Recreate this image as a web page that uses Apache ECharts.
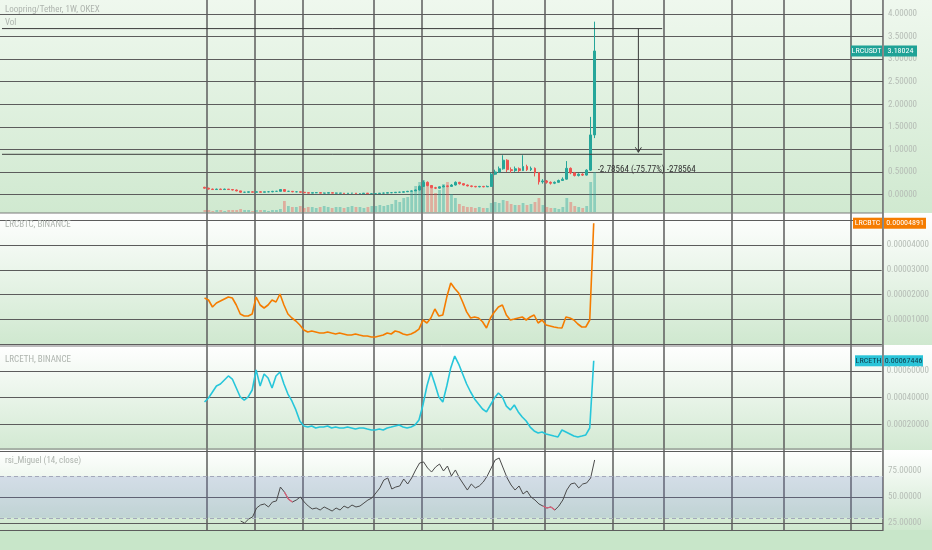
<!DOCTYPE html>
<html><head><meta charset="utf-8">
<script src="https://cdn.jsdelivr.net/npm/echarts@6/dist/echarts.min.js"></script>
<style>html,body{margin:0;padding:0;background:#fff}#c{width:932px;height:550px}</style>
</head><body><div id="c"></div>
<script>
// ---------- DATA (weekly) ----------
// LRC/USDT candles: [open, close, low, high]
const usdCandles = [
[0.16,0.14,0.13,0.17],[0.14,0.12,0.11,0.15],[0.12,0.11,0.10,0.13],[0.11,0.12,0.10,0.13],[0.12,0.11,0.10,0.13],
[0.11,0.12,0.10,0.13],[0.12,0.11,0.10,0.12],[0.11,0.10,0.09,0.12],[0.10,0.08,0.07,0.11],[0.08,0.05,0.04,0.08],
[0.05,0.05,0.04,0.06],[0.05,0.06,0.04,0.06],[0.06,0.05,0.05,0.07],[0.05,0.06,0.05,0.07],[0.06,0.05,0.05,0.07],
[0.05,0.06,0.05,0.06],[0.06,0.06,0.05,0.07],[0.06,0.07,0.05,0.08],[0.07,0.07,0.06,0.08],[0.07,0.11,0.07,0.12],
[0.11,0.07,0.06,0.12],[0.07,0.07,0.06,0.08],[0.07,0.06,0.05,0.07],[0.06,0.06,0.05,0.07],[0.06,0.05,0.04,0.06],
[0.05,0.04,0.03,0.05],[0.04,0.03,0.03,0.04],[0.03,0.04,0.03,0.04],[0.04,0.04,0.03,0.05],[0.04,0.03,0.03,0.04],
[0.03,0.03,0.03,0.04],[0.03,0.04,0.03,0.04],[0.04,0.03,0.03,0.04],[0.03,0.03,0.02,0.04],[0.03,0.03,0.02,0.03],
[0.03,0.02,0.02,0.03],[0.02,0.03,0.02,0.03],[0.03,0.03,0.02,0.03],[0.03,0.02,0.02,0.03],[0.02,0.02,0.02,0.03],
[0.02,0.03,0.02,0.03],[0.03,0.02,0.02,0.03],[0.02,0.02,0.01,0.03],[0.02,0.02,0.02,0.03],[0.02,0.03,0.02,0.03],
[0.03,0.03,0.02,0.04],[0.03,0.04,0.03,0.04],[0.04,0.04,0.03,0.05],[0.04,0.05,0.04,0.05],[0.05,0.05,0.04,0.06],
[0.05,0.06,0.05,0.07],[0.06,0.07,0.06,0.08],[0.07,0.08,0.07,0.09],[0.08,0.10,0.08,0.11],[0.10,0.18,0.09,0.20],
[0.18,0.27,0.17,0.31],[0.27,0.20,0.18,0.29],[0.20,0.15,0.14,0.21],[0.15,0.14,0.12,0.17],[0.14,0.17,0.13,0.18],
[0.17,0.19,0.16,0.21],[0.19,0.18,0.16,0.20],[0.18,0.21,0.17,0.23],[0.21,0.27,0.20,0.29],[0.27,0.24,0.22,0.28],
[0.24,0.21,0.20,0.25],[0.21,0.19,0.18,0.22],[0.19,0.18,0.16,0.20],[0.18,0.17,0.16,0.19],[0.17,0.18,0.16,0.19],
[0.18,0.17,0.16,0.19],[0.17,0.18,0.17,0.20],[0.18,0.45,0.17,0.48],[0.45,0.50,0.43,0.55],[0.50,0.57,0.48,0.62],
[0.57,0.76,0.55,0.87],[0.76,0.55,0.50,0.78],[0.55,0.53,0.48,0.60],[0.53,0.57,0.50,0.62],[0.57,0.53,0.50,0.60],
[0.53,0.62,0.52,0.87],[0.62,0.55,0.52,0.66],[0.55,0.58,0.52,0.62],[0.58,0.48,0.40,0.60],[0.48,0.28,0.22,0.50],
[0.28,0.30,0.24,0.34],[0.30,0.27,0.24,0.32],[0.27,0.25,0.22,0.29],[0.25,0.27,0.23,0.29],[0.27,0.31,0.26,0.33],
[0.31,0.34,0.30,0.38],[0.34,0.58,0.33,0.74],[0.58,0.48,0.45,0.60],[0.48,0.42,0.40,0.50],[0.42,0.45,0.40,0.47],
[0.45,0.43,0.41,0.47],[0.43,0.54,0.42,0.56],[0.54,1.32,0.52,1.72],[1.32,3.18024,1.25,3.83]
];
// volume (relative units)
const usdVolume = [
2,2,1,2,2,1,2,2,2,3, 2,2,1,2,2,2,1,2,2,3,
11,6,5,5,6,4,5,5,4,5, 6,5,4,5,5,4,5,6,5,5,
4,5,6,6,7,6,7,8,12,10, 14,15,20,26,30,32,28,24,19,22,
28,30,18,14,8,6,5,5,4,5, 4,4,9,10,9,12,11,8,7,7,
9,7,8,10,14,7,5,4,4,3, 5,14,10,6,5,4,6,30,40
];
// LRC/BTC close, in satoshi
const btcSats = [
1862,1781,1498,1660,1741,1822,1903,1862,1579,1215,
1134,1134,1215,1903,1579,1457,1579,1781,1700,2024,
1579,1215,1053,931,769,567,486,526,486,445,
445,486,445,405,445,405,364,364,405,364,
324,324,283,283,324,364,445,405,526,486,
405,364,405,486,600,972,850,1053,1417,1134,
1174,1900,2470,2250,2065,1700,1300,1053,1093,1053,
900,648,1053,1300,1500,1579,1174,972,1012,1053,
1093,972,1093,1174,850,972,769,729,688,660,
648,1093,1053,972,810,688,688,972,4891
];
// LRC/ETH close, in units of 1e-4 ETH
const ethE4 = [
3.66,3.96,4.41,4.86,5.01,5.31,5.61,5.38,4.71,4.04,
3.81,4.04,4.56,6.06,4.86,5.76,5.46,4.71,5.61,5.91,
5.01,4.26,3.74,3.07,2.24,1.87,1.79,1.87,1.72,1.79,
1.79,1.87,1.72,1.79,1.72,1.72,1.79,1.72,1.64,1.72,
1.72,1.64,1.57,1.57,1.64,1.57,1.72,1.79,1.87,1.94,
1.79,1.72,1.79,1.94,2.32,3.44,4.86,5.91,5.01,4.04,
3.66,4.86,6.21,7.10,6.50,5.76,5.01,4.41,3.89,3.51,
3.14,2.92,3.44,3.96,4.34,4.04,3.36,3.07,3.44,2.92,
2.54,2.24,1.79,1.50,1.35,1.42,1.27,1.20,1.12,1.05,
1.57,1.42,1.27,1.12,1.05,1.12,1.20,1.72,6.7446
];
// RSI (14)
const rsiValues = [
null,null,null,null,null,null,null,null,null,
26.9,25,28.8,30.8,39.4,42.3,43.3,40.4,45.2,46.2,
59.6,54.8,48,45.2,47.1,50,45.2,41.3,38.5,39.4,
37.5,40.4,38.5,36.5,39.4,37.5,41.3,39.4,42.3,40.4,
41.3,44.2,47.1,49,53.8,58.7,66.3,68.3,57.7,59.6,
60.6,67.3,62.5,68.3,76,82.7,83.7,77.9,74,78.8,
81.7,75,79.8,70.2,76,68.3,62.5,56.7,62.5,58.7,
60.6,64.4,70.2,77.9,85.6,87.5,77.9,68.3,61.5,56.7,
60.6,52.9,55.8,50,47.1,43.3,41.3,39.4,40.4,37.5,
41.3,47.1,56.7,62.5,63.5,58.7,62.5,63.5,68.3,85.6
];
const rsiRedIdx = [20,21,22,85,86,87,88];
const usdTicks = {min:0, max:4, interval:0.5};
const btcTicks = {min:0, max:5000, interval:1000};
const ethTicks = {min:0, max:8, interval:2};
const rsiTicks = {min:25, max:75, interval:25};
const rsiBand = [30, 70];
const measureFrom = 3.67643, measureTo = 0.89079;
const titles = ['Loopring/Tether, 1W, OKEX','Vol','LRCBTC, BINANCE','LRCETH, BINANCE','rsi_Miguel (14, close)'];

// ---------- LAYOUT ----------
const PAD = 51, TOTAL = 222;           // empty weeks before / total slots on the time axis
const vLineCats = [52,64,76,94,106,124,137,154,167,184,197,214];
const measureStartCat = 0, measureEndCat = 166, measureArrowCat = 160;
const cats = []; for (let k = 0; k < TOTAL; k++) cats.push('W' + k);
const FONT = "'Liberation Sans Narrow','Roboto Condensed','DejaVu Sans Condensed',sans-serif";
const UP = '#26a69a', DOWN = '#ef5350';
const GL = '#5c5c5c';

const candleData = usdCandles.map((c, i) => [PAD + i, c[0], c[1], c[2], c[3]]);
const volData = usdVolume.map((v, i) => ({
  value: [PAD + i, v],
  itemStyle: {color: usdCandles[i][1] >= usdCandles[i][0] ? 'rgba(38,166,154,0.4)' : 'rgba(239,83,80,0.4)'}
}));
const btcData = btcSats.map((v, i) => [PAD + i, v]);
const ethData = ethE4.map((v, i) => [PAD + i, v]);
const rsiData = []; const rsiRed = [];
rsiValues.forEach((v, i) => {
  if (v !== null) rsiData.push([PAD + i, v]);
  rsiRed.push([PAD + i, (v !== null && rsiRedIdx.includes(i)) ? v : '-']);
});

const lbl = {color:'#b5bcb5', fontSize:9, fontFamily:FONT, margin:5};
const split = {show:true, lineStyle:{color:GL, width:1.2}};
const grids = [
  {left:-2, right:49, top:14, height:180.5},
  {left:-2, right:49, top:152, height:60},
  {left:-2, right:49, top:220.5, height:123.5},
  {left:-2, right:49, top:344, height:107},
  {left:-2, right:49, top:471, height:52},
  {left:-2, right:49, top:0, height:530}
];
const xAxes = grids.map((g, k) => ({
  type:'category', gridIndex:k, data:cats, boundaryGap:true,
  axisLine:{show:k === 5, lineStyle:{color:GL, width:1.2}},
  axisTick:{show:false}, axisLabel:{show:false},
  splitLine:{show:k === 5, interval:(idx) => vLineCats.includes(idx), lineStyle:{color:GL, width:1.5}}
}));
const yAxes = [
  Object.assign({gridIndex:0, position:'right', axisLine:{show:false}, axisTick:{show:false},
    axisLabel:Object.assign({}, lbl, {formatter:v => v.toFixed(5)}), splitLine:split}, usdTicks),
  {gridIndex:1, min:0, max:60, show:false},
  Object.assign({gridIndex:2, position:'right', axisLine:{show:false}, axisTick:{show:false},
    axisLabel:Object.assign({}, lbl, {formatter:v => (v/1e8).toFixed(8), showMinLabel:false, showMaxLabel:false}), splitLine:split}, btcTicks),
  Object.assign({gridIndex:3, position:'right', axisLine:{show:false}, axisTick:{show:false},
    axisLabel:Object.assign({}, lbl, {formatter:v => (v/1e4).toFixed(8), showMinLabel:false, showMaxLabel:false}), splitLine:split}, ethTicks),
  Object.assign({gridIndex:4, position:'right', axisLine:{show:false}, axisTick:{show:false},
    axisLabel:Object.assign({}, lbl, {formatter:v => v.toFixed(5)}),
    splitLine:{show:true, lineStyle:{color:[GL, GL, 'rgba(0,0,0,0)'], width:1.2}}}, rsiTicks),
  {gridIndex:5, position:'right', min:0, max:1, axisLine:{show:true, lineStyle:{color:'#8c8c8c', width:1}},
    axisTick:{show:false}, axisLabel:{show:false}, splitLine:{show:false}}
];

function grad(c0, c1) {
  return {type:'linear', x:0, y:0, x2:0, y2:1, colorStops:[{offset:0, color:c0}, {offset:1, color:c1}]};
}
const bgs = [
  {type:'rect', silent:true, z:-100, shape:{x:0, y:0, width:932, height:213}, style:{fill:grad('#eff8ee', '#d0e9d0')}},
  {type:'rect', silent:true, z:-100, shape:{x:0, y:213, width:932, height:132}, style:{fill:grad('#ffffff', '#cfe8cf')}},
  {type:'rect', silent:true, z:-100, shape:{x:0, y:345, width:932, height:105}, style:{fill:grad('#ffffff', '#d2e9d2')}},
  {type:'rect', silent:true, z:-100, shape:{x:0, y:450, width:932, height:80}, style:{fill:grad('#ffffff', '#cfe8cf')}},
  {type:'rect', silent:true, z:-100, shape:{x:0, y:530, width:932, height:20}, style:{fill:'#c8e6c9'}}
];
const seps = [213, 346, 449].map(y => ({type:'line', silent:true, z:1, shape:{x1:0, y1:y, x2:883, y2:y}, style:{stroke:'#7a7a7a', lineWidth:1}}));
const titleYs = [10, 23, 225, 360, 461];
const titleEls = titles.map((t, k) => ({type:'text', silent:true, z:5, style:{text:t, x:5, y:titleYs[k], fill:'#aeb4ae', fontSize:9, fontFamily:FONT, verticalAlign:'middle'}}));

const option = {
  animation:false,
  backgroundColor:'#ffffff',
  grid:grids, xAxis:xAxes, yAxis:yAxes,
  series:[
    {type:'candlestick', xAxisIndex:0, yAxisIndex:0, encode:{x:0, y:[1,2,3,4]}, data:candleData, barWidth:'60%',
     itemStyle:{color:UP, color0:DOWN, borderColor:UP, borderColor0:DOWN, borderWidth:1}},
    {type:'bar', xAxisIndex:1, yAxisIndex:1, data:volData, barWidth:'70%'},
    {type:'line', xAxisIndex:2, yAxisIndex:2, data:btcData, showSymbol:false, lineStyle:{color:'#f57c00', width:1.6}, clip:false},
    {type:'line', xAxisIndex:3, yAxisIndex:3, data:ethData, showSymbol:false, lineStyle:{color:'#26c6da', width:1.6}, clip:false},
    {type:'line', xAxisIndex:4, yAxisIndex:4, data:rsiData, showSymbol:false, lineStyle:{color:'#4a4a4a', width:1}, clip:false,
     markArea:{silent:true, itemStyle:{color:'rgba(115,128,205,0.22)'}, data:[[{yAxis:rsiBand[0]}, {yAxis:rsiBand[1]}]]},
     markLine:{silent:true, symbol:'none', label:{show:false}, lineStyle:{color:'#a3a8ba', type:[4,3], width:1}, data:[{yAxis:rsiBand[0]}, {yAxis:rsiBand[1]}]}},
    {type:'line', xAxisIndex:4, yAxisIndex:4, data:rsiRed, showSymbol:false, connectNulls:false, lineStyle:{color:'#e0607a', width:1.2}, clip:false}
  ],
  graphic:bgs.concat(seps, titleEls)
};
const chart = echarts.init(document.getElementById('c'));
chart.setOption(option);

// ---------- overlays placed through the axes ----------
const last = usdCandles.length - 1;
const px = (g, cat, v) => chart.convertToPixel({gridIndex:g}, [cat, v]);
function tag(g, value, name, valText, color, txtColor, w1, w2) {
  const y = px(g, PAD + last, value)[1];
  const R = 883, h = 11;
  return [
    {type:'rect', z:20, silent:true, shape:{x:R - w1, y:y - h/2, width:w1 - 1, height:h}, style:{fill:color}},
    {type:'rect', z:20, silent:true, shape:{x:R + 1, y:y - h/2, width:w2, height:h}, style:{fill:color}},
    {type:'text', z:21, silent:true, style:{text:name, x:R - w1/2 - 0.5, y:y, fill:txtColor, fontSize:8, fontFamily:FONT, align:'center', verticalAlign:'middle'}},
    {type:'text', z:21, silent:true, style:{text:valText, x:R + 1 + w2/2, y:y, fill:txtColor, fontSize:8, fontFamily:FONT, align:'center', verticalAlign:'middle'}}
  ];
}
const usdLast = usdCandles[last][1], btcLast = btcSats[last], ethLast = ethE4[last];
const tags = [].concat(
  tag(0, usdLast, 'LRCUSDT', usdLast.toFixed(5), '#1fa296', '#ffffff', 32, 33),
  tag(2, btcLast, 'LRCBTC', (btcLast/1e8).toFixed(8), '#f57c00', '#ffffff', 30, 42),
  tag(3, ethLast, 'LRCETH', (ethLast/1e4).toFixed(8), '#2ac4d8', '#0d3b4a', 28, 39)
);
const pA = px(0, measureStartCat, measureFrom), pB = px(0, measureEndCat, measureFrom);
const pC = px(0, measureStartCat, measureTo), pD = px(0, measureEndCat, measureTo);
const ax = px(0, measureArrowCat, measureFrom)[0];
const diff = measureTo - measureFrom;
const mText = diff.toFixed(5) + ' (' + (diff / measureFrom * 100).toFixed(2) + '%) ' + Math.round(diff * 1e5);
const lastX = px(0, PAD + last, usdLast)[0];
const measure = [
  {type:'line', z:10, silent:true, shape:{x1:pA[0], y1:pA[1], x2:pB[0], y2:pB[1]}, style:{stroke:'#3a3a3a', lineWidth:1}},
  {type:'line', z:10, silent:true, shape:{x1:pC[0], y1:pC[1], x2:pD[0], y2:pD[1]}, style:{stroke:'#3a3a3a', lineWidth:1}},
  {type:'line', z:10, silent:true, shape:{x1:ax, y1:pA[1], x2:ax, y2:pC[1] - 2}, style:{stroke:'#3a3a3a', lineWidth:1}},
  {type:'polyline', z:10, silent:true, shape:{points:[[ax - 3, pC[1] - 7], [ax, pC[1] - 2], [ax + 3, pC[1] - 7]]}, style:{stroke:'#3a3a3a', lineWidth:1, fill:null}},
  {type:'text', z:10, silent:true, style:{text:mText, x:lastX + 3, y:pC[1] + 15, fill:'#333333', fontSize:9, fontFamily:FONT, verticalAlign:'middle'}}
];
chart.setOption({graphic:bgs.concat(seps, titleEls, tags, measure)});
</script>
</body></html>
